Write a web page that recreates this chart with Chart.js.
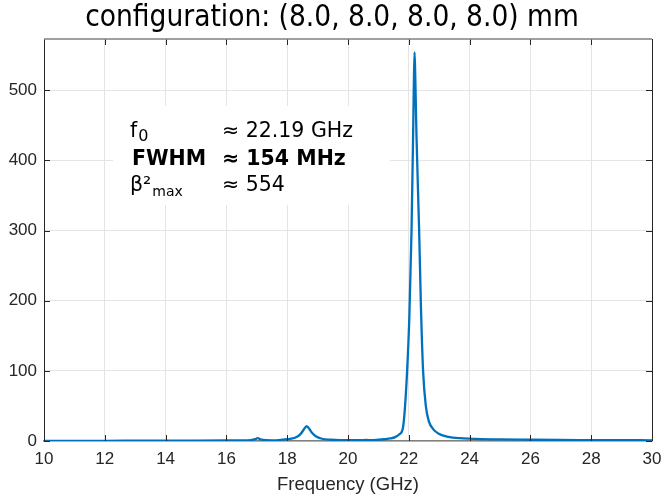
<!DOCTYPE html>
<html>
<head>
<meta charset="utf-8">
<script src="https://cdn.jsdelivr.net/npm/chart.js@4"></script>
<style>
  html, body { margin: 0; padding: 0; background: #fff; }
  #wrap { width: 664px; height: 494px; }
</style>
</head>
<body>
<div id="wrap"><canvas id="chart"></canvas></div>
<script>
const titleText = 'configuration: (8.0, 8.0, 8.0, 8.0) mm'
const xLabel = 'Frequency (GHz)'

const xTickValues = [10, 12, 14, 16, 18, 20, 22, 24, 26, 28, 30]
const yTickValues = [0, 100, 200, 300, 400, 500]

// frequency (GHz) and beta^2
const freqGHz = [10, 11, 12, 13, 14, 15, 16, 16.5, 16.8, 16.95, 17.03, 17.12, 17.3,
  17.5, 17.84, 18.14, 18.34, 18.45, 18.54, 18.64, 18.74, 18.83, 18.94, 19.14, 19.44, 19.8,
  20.0, 20.4, 20.6, 20.75, 21.0, 21.2, 21.4, 21.55, 21.7, 21.8, 21.86, 21.945, 22.02,
  22.09, 22.14, 22.17, 22.19, 22.21, 22.25, 22.34, 22.40, 22.47, 22.56, 22.66, 22.8,
  23.0, 23.3, 23.7, 24.2, 25, 26, 27, 28, 29, 30]
const beta2 = [0.3, 0.3, 0.3, 0.35, 0.4, 0.5, 0.7, 0.9, 1.3, 2.6, 4.2, 2.4, 1.2,
  1.0, 1.9, 3.3, 6.5, 10.5, 16, 21, 16.5, 11, 6.8, 3.2, 1.8, 1.2,
  1.1, 1.1, 1.5, 1.2, 1.8, 2.5, 3.6, 5.5, 10, 17, 40, 100, 180,
  300, 430, 520, 554, 525, 440, 300, 190, 100, 50, 28, 17,
  10, 6, 4, 3, 2.2, 1.8, 1.5, 1.3, 1.1, 1.0]

const annotLabels = ['f', 'FWHM', 'β²']
const annotValues = ['≈ 22.19 GHz', '≈ 154 MHz', '≈ 554']

const points = freqGHz.map((f, i) => ({ x: f, y: beta2[i] }))

const frame = {
  id: 'frame',
  afterDatasetsDraw(chart) {
    const { ctx, chartArea: a, scales } = chart
    ctx.save()
    // inward tick marks on all four sides
    ctx.lineWidth = 1
    ctx.strokeStyle = '#262626'
    scales.x.ticks.forEach(t => {
      const px = Math.round(scales.x.getPixelForValue(t.value)) + 0.5
      ctx.beginPath()
      ctx.moveTo(px, a.bottom); ctx.lineTo(px, a.bottom - 6)
      ctx.moveTo(px, a.top); ctx.lineTo(px, a.top + 6)
      ctx.stroke()
    })
    scales.y.ticks.forEach(t => {
      const py = Math.round(scales.y.getPixelForValue(t.value)) + 0.5
      ctx.beginPath()
      ctx.moveTo(a.left, py); ctx.lineTo(a.left + 6, py)
      ctx.moveTo(a.right, py); ctx.lineTo(a.right - 6, py)
      ctx.stroke()
    })
    // top (grey) and right (dark) edges of the box
    ctx.strokeStyle = '#808080'
    ctx.lineWidth = 1.5
    ctx.beginPath(); ctx.moveTo(a.left, a.top); ctx.lineTo(a.right, a.top); ctx.stroke()
    ctx.strokeStyle = '#262626'
    ctx.lineWidth = 1
    ctx.beginPath(); ctx.moveTo(a.right + 0.5, a.top); ctx.lineTo(a.right + 0.5, a.bottom); ctx.stroke()

    // text box with the fit results
    const bx = a.left + 69, by = a.top + 67
    ctx.fillStyle = '#fff'
    ctx.fillRect(bx, by, 277, 99)
    ctx.fillStyle = '#000'
    ctx.textBaseline = 'alphabetic'
    const fs = 20.5
    const rows = [by + 31, by + 59, by + 85]
    const x0 = bx + 17, x1 = bx + 109
    ctx.font = fs + 'px "DejaVu Sans"'
    ctx.fillText(annotLabels[0], x0, rows[0])
    let w = ctx.measureText(annotLabels[0]).width
    ctx.font = '16px "DejaVu Sans"'
    ctx.fillText('0', x0 + w + 1, rows[0] + 4)
    ctx.font = fs + 'px "DejaVu Sans"'
    ctx.fillText(annotValues[0], x1, rows[0])
    ctx.font = 'bold ' + fs + 'px "DejaVu Sans"'
    ctx.fillText(annotLabels[1], x0 + 2, rows[1])
    ctx.fillText(annotValues[1], x1, rows[1])
    ctx.font = fs + 'px "DejaVu Sans"'
    ctx.fillText(annotLabels[2], x0, rows[2])
    w = ctx.measureText(annotLabels[2]).width
    ctx.font = '14px "DejaVu Sans"'
    ctx.fillText('max', x0 + w + 1, rows[2] + 5)
    ctx.font = fs + 'px "DejaVu Sans"'
    ctx.fillText(annotValues[2], x1, rows[2])
    ctx.restore()
  }
}

new Chart(document.getElementById('chart'), {
  type: 'line',
  data: {
    datasets: [{
      data: points,
      borderColor: '#0072BD',
      borderWidth: 2.3,
      pointRadius: 0,
      cubicInterpolationMode: 'monotone',
      fill: false
    }]
  },
  options: {
    responsive: true,
    maintainAspectRatio: false,
    animation: false,
    events: [],
    layout: { padding: 0 },
    plugins: {
      legend: { display: false },
      tooltip: { enabled: false },
      title: {
        display: true,
        text: titleText,
        color: '#000',
        font: { family: '"DejaVu Sans Condensed", "DejaVu Sans"', size: 29.5, weight: 'normal', lineHeight: 1.2 },
        padding: { top: 1, bottom: 2.6 }
      }
    },
    scales: {
      x: {
        type: 'linear',
        min: 10,
        max: 30,
        afterBuildTicks: s => { s.ticks = xTickValues.map(v => ({ value: v })) },
        afterFit: s => { s.height = 53; s.paddingLeft = 0; s.paddingRight = 12 },
        ticks: { color: '#262626', font: { family: '"Liberation Sans"', size: 17 }, padding: 8, maxRotation: 0 },
        grid: { color: '#e4e4e4', drawTicks: false },
        border: { color: '#808080', width: 1.5 },
        title: { display: true, text: xLabel, color: '#262626', font: { family: '"Liberation Sans"', size: 18.5 }, padding: { top: 0, bottom: -2 } }
      },
      y: {
        type: 'linear',
        min: 0,
        max: 573,
        afterBuildTicks: s => { s.ticks = yTickValues.map(v => ({ value: v })) },
        afterFit: s => { s.width = 44 },
        ticks: { color: '#262626', font: { family: '"Liberation Sans"', size: 17 }, padding: 7 },
        grid: { color: '#e4e4e4', drawTicks: false },
        border: { color: '#262626', width: 1 }
      }
    }
  },
  plugins: [frame]
})
</script>
</body>
</html>
